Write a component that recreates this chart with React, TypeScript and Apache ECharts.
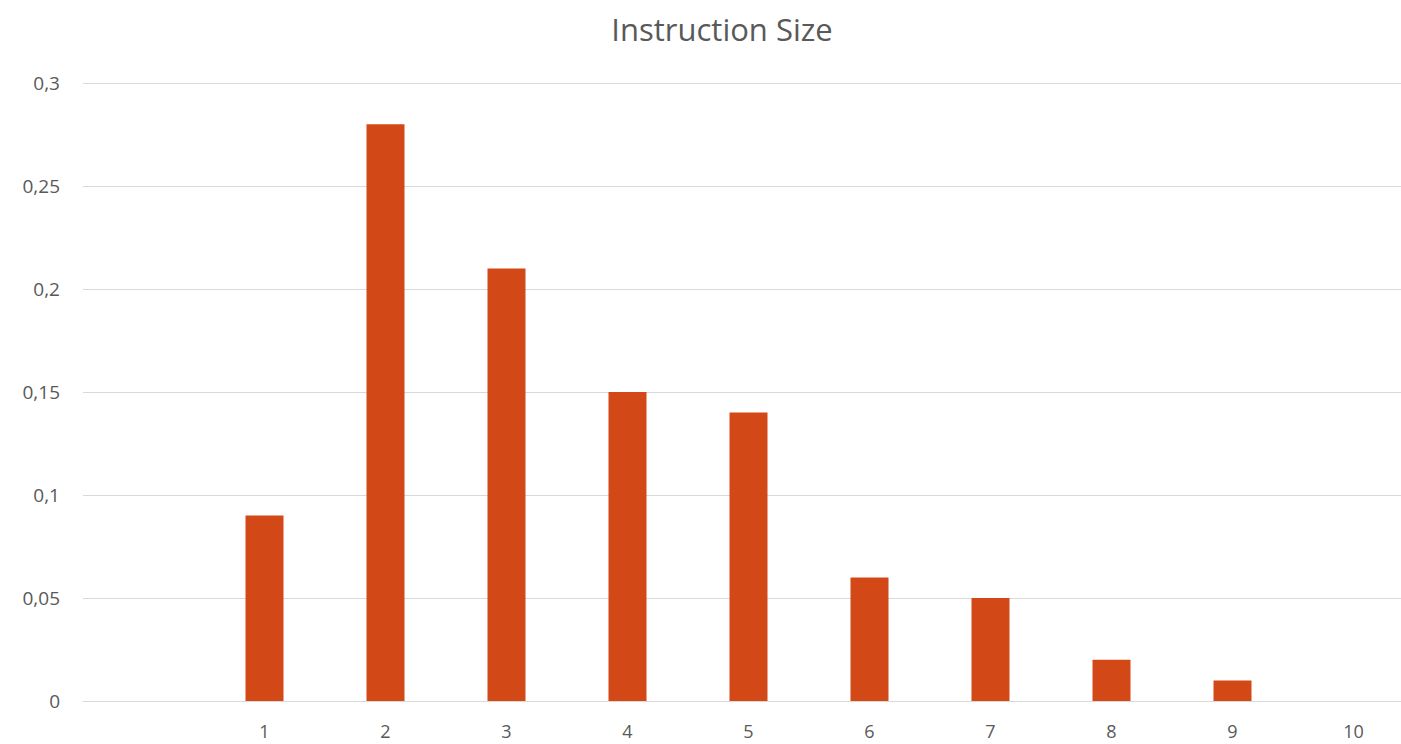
import React, { useEffect, useRef } from "react";
import * as echarts from "echarts";

const categories = ["", "1", "2", "3", "4", "5", "6", "7", "8", "9", "10"];
const values = [null, 0.09, 0.28, 0.21, 0.15, 0.14, 0.06, 0.05, 0.02, 0.01, 0];
const chartTitle = "Instruction Size";

export default function App() {
  const ref = useRef<HTMLDivElement>(null);
  useEffect(() => {
    document.body.style.margin = "0";
    const chart = echarts.init(ref.current!, null, { renderer: "svg" });
    chart.setOption({
      animation: false,
      backgroundColor: "#ffffff",
      title: {
        text: chartTitle,
        left: 717,
        textAlign: "center",
        top: 8,
        textStyle: { fontFamily: "Open Sans", fontSize: 31, fontWeight: "normal", color: "#595959" },
      },
      grid: { left: 83, right: 0, top: 83, bottom: 43, containLabel: false },
      xAxis: {
        type: "category",
        data: categories,
        axisLine: { lineStyle: { color: "#d9d9d9", width: 1 } },
        axisTick: { show: false },
        axisLabel: { fontFamily: "Open Sans", fontSize: 18, color: "#595959", margin: 21 },
      },
      yAxis: {
        type: "value",
        min: 0,
        max: 0.3,
        interval: 0.05,
        axisLine: { show: false },
        axisTick: { show: false },
        splitLine: { lineStyle: { color: "#d9d9d9", width: 1 } },
        axisLabel: {
          fontFamily: "Open Sans",
          fontSize: 19,
          color: "#595959",
          margin: 23,
          formatter: (v: number) => String(Number(v.toFixed(2))).replace(".", ","),
        },
      },
      series: [
        {
          type: "bar",
          data: values,
          barWidth: 38,
          itemStyle: { color: "#d34817" },
        },
      ],
    });
    return () => chart.dispose();
  }, []);
  return (
    <div style={{ width: 1401, height: 744, overflow: "hidden", position: "relative" }}>
      <div ref={ref} style={{ width: 1414, height: 744 }} />
    </div>
  );
}
